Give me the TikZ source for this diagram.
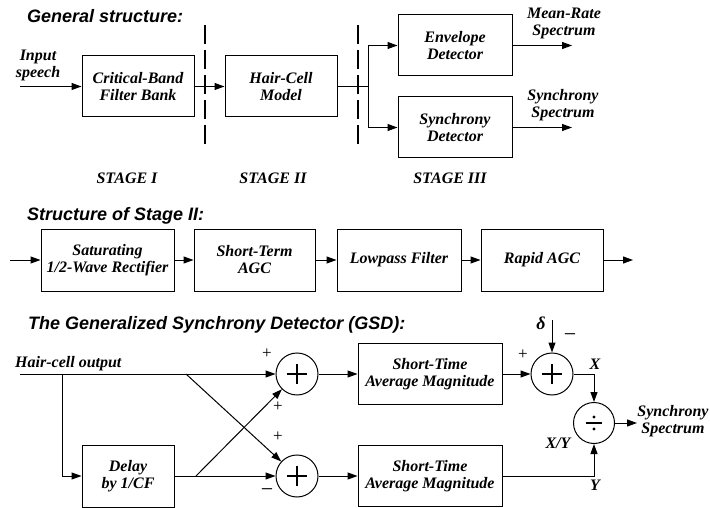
\documentclass[tikz,border=0pt]{standalone}
\usepackage{fontspec}
\setmainfont{Liberation Serif}
\newfontfamily\sansf{Liberation Sans}
\usetikzlibrary{arrows.meta}
\newcommand\boxfont{\fontsize{16}{17}\selectfont\bfseries\itshape}
\begin{document}
\begin{tikzpicture}[x=1pt,y=-1pt,
  box/.style={draw,line width=1pt,minimum height=61pt,align=center,inner sep=0pt,font=\boxfont},
  lbl/.style={font=\boxfont,align=center,inner sep=0pt},
  ttl/.style={font=\sansf\fontsize{18}{20}\selectfont\bfseries\itshape,anchor=base west,inner sep=0pt},
  arr/.style={line width=1pt,-{Triangle[length=10pt,width=7pt]}},
  ln/.style={line width=1pt},
  stagesep/.style={line width=2.2pt,dash pattern=on 19pt off 6pt},
  sumnode/.style={circle,draw,line width=1pt,minimum size=42pt,inner sep=0pt,
    path picture={\draw[line width=1.3pt]
      ([xshift=-10pt]path picture bounding box.center) -- ([xshift=10pt]path picture bounding box.center)
      ([yshift=-10pt]path picture bounding box.center) -- ([yshift=10pt]path picture bounding box.center);}},
  divnode/.style={circle,draw,line width=1pt,minimum size=41pt,inner sep=0pt,
    path picture={\draw[line width=1.3pt]
      ([xshift=-8pt]path picture bounding box.center) -- ([xshift=8pt]path picture bounding box.center);
      \fill ([yshift=6pt]path picture bounding box.center) circle (1.7pt)
            ([yshift=-6pt]path picture bounding box.center) circle (1.7pt);}},
  sign/.style={font=\fontsize{17}{17}\selectfont,inner sep=0pt}]
\useasboundingbox (0,0) rectangle (710,508);

% ---------- General structure ----------
\node[ttl] (t1) at (27,23) {General structure:};
\node[lbl] (inp) at (38,65) {Input\\speech};
\coordinate (instart) at (20,86.5);
\node[box,minimum width=112pt] (cb) at (138,86.5) {Critical-Band\\Filter Bank};
\node[box,minimum width=112pt] (hc) at (281,86.5) {Hair-Cell\\Model};
\node[box,minimum width=114pt] (env) at (455,45.5) {Envelope\\Detector};
\node[box,minimum width=114pt] (syn) at (455,127.5) {Synchrony\\Detector};
\coordinate (br) at (368,86.5);
\coordinate (o1) at (572,45.5);
\coordinate (o2) at (572,127.5);
\node[lbl] (mr) at (564,23) {Mean-Rate\\Spectrum};
\node[lbl] (ss) at (563,105) {Synchrony\\Spectrum};
\node[lbl] (s1) at (127,178) {STAGE I};
\node[lbl] (s2) at (273,178) {STAGE II};
\node[lbl] (s3) at (450,178) {STAGE III};
\draw[arr] (instart) -- (cb.west);
\draw[arr] (cb.east) -- (hc.west);
\draw[ln] (hc.east) -- (br);
\draw[arr] (br) |- (env.west);
\draw[arr] (br) |- (syn.west);
\draw[arr] (env.east) -- (o1);
\draw[arr] (syn.east) -- (o2);
\draw[stagesep] (205,25) -- (205,148);
\draw[stagesep] (358,25) -- (358,148);

% ---------- Structure of Stage II ----------
\node[ttl] (t2) at (27,220) {Structure of Stage II:};
\coordinate (ain) at (10,260);
\node[box,minimum width=133pt,minimum height=62pt] (b1) at (107.5,260) {Saturating\\1/2-Wave Rectifier};
\node[box,minimum width=121pt,minimum height=62pt] (b2) at (254.5,260) {Short-Term\\AGC};
\node[box,minimum width=124pt,minimum height=62pt] (b3) at (399,260) {Lowpass Filter};
\node[box,minimum width=122pt,minimum height=62pt] (b4) at (542,260) {Rapid AGC};
\coordinate (aout) at (633,260);
\draw[arr] (ain) -- (b1.west);
\draw[arr] (b1.east) -- (b2.west);
\draw[arr] (b2.east) -- (b3.west);
\draw[arr] (b3.east) -- (b4.west);
\draw[arr] (b4.east) -- (aout);

% ---------- GSD ----------
\node[ttl] (t3) at (28,329) {The Generalized Synchrony Detector (GSD):};
\node[lbl,anchor=base west] (hco) at (15,367) {Hair-cell output};
\coordinate (gin) at (20,374);
\coordinate (gbr) at (62,374);
\coordinate (c1) at (186,374);
\coordinate (c2) at (196,476);
\node[sumnode] (sa) at (297,374) {};
\node[sumnode] (sb) at (297,476) {};
\node[box,minimum width=92pt,minimum height=62pt] (dl) at (128,476) {Delay\\by 1/CF};
\node[box,minimum width=144pt] (m1) at (430,374) {Short-Time\\Average Magnitude};
\node[box,minimum width=144pt] (m2) at (430,476) {Short-Time\\Average Magnitude};
\node[sumnode] (sc) at (552,374) {};
\node[divnode] (dv) at (594,423) {};
\coordinate (dtop) at (552,320);
\coordinate (gout) at (637,423);
\node[lbl,font=\fontsize{18}{18}\selectfont\bfseries\itshape] (dlt) at (541,323) {δ};
\node[sign] (p1) at (267,354) {+};
\node[sign] (p2) at (278,407) {+};
\node[sign] (p3) at (278,437) {+};
\node[sign,font=\fontsize{22}{22}\selectfont] (m1s) at (267,493) {−};
\node[sign,font=\fontsize{22}{22}\selectfont] (m2s) at (570,338) {−};
\node[sign] (p4) at (523,355) {+};
\node[lbl] (lx) at (595,364) {X};
\node[lbl] (lxy) at (558,443) {X/Y};
\node[lbl] (ly) at (595,485) {Y};
\node[lbl] (gss) at (673,421) {Synchrony\\Spectrum};
\draw[arr] (gin) -- (sa.west);
\draw[ln] (gbr) -- (gbr |- dl.west);
\draw[arr] (gbr |- dl.west) -- (dl.west);
\draw[arr] (dl.east) -- (sb.west);
\draw[arr] (c1) -- (sb);
\draw[arr] (c2) -- (sa);
\draw[arr] (sa.east) -- (m1.west);
\draw[arr] (sb.east) -- (m2.west);
\draw[arr] (m1.east) -- (sc.west);
\draw[arr] (dtop) -- (sc.north);
\draw[arr] (sc.east) -| (dv.north);
\draw[arr] (m2.east) -| (dv.south);
\draw[arr] (dv.east) -- (gout);
\end{tikzpicture}
\end{document}
